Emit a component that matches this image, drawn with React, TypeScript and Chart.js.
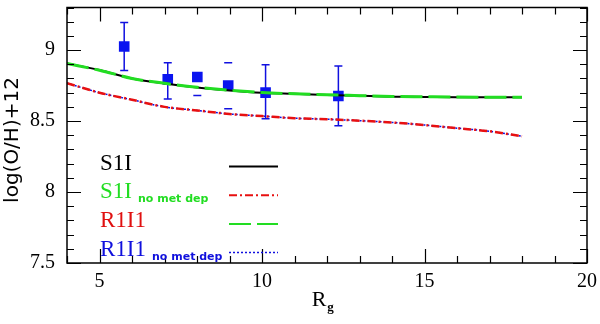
import React, { useEffect, useRef } from "react";
import { Chart, registerables } from "chart.js";

Chart.register(...registerables);

// Model gradients (galactocentric radius vs log(O/H)+12)
const modelR = [4, 5, 6, 7, 8, 9, 10, 11, 12, 13, 14, 15, 16, 17, 18];
const s1i = [8.905, 8.86, 8.80, 8.765, 8.737, 8.716, 8.70, 8.692, 8.684, 8.678, 8.672, 8.67, 8.668, 8.668, 8.668];
const r1i1 = [8.905, 8.858, 8.80, 8.766, 8.738, 8.717, 8.701, 8.692, 8.685, 8.679, 8.673, 8.671, 8.669, 8.668, 8.668];
const s1iNoMet = [8.767, 8.70, 8.65, 8.60, 8.575, 8.55, 8.535, 8.52, 8.513, 8.503, 8.49, 8.472, 8.45, 8.428, 8.393];
const r1i1NoMet = [8.767, 8.70, 8.65, 8.60, 8.575, 8.55, 8.535, 8.52, 8.513, 8.503, 8.49, 8.472, 8.45, 8.428, 8.393];

// Observations
const obsR = [5.76, 7.1, 8.01, 8.96, 10.11, 12.35];
const obsOH = [9.025, 8.795, 8.81, 8.75, 8.70, 8.677];
const obsErrLow = [8.857, 8.656, 8.68, 8.587, 8.517, 8.467];
const obsErrHigh = [9.194, 8.91, 8.83, 8.91, 8.896, 8.887];
const obsStem = [true, true, false, false, true, true];

// Axes
const xTicks = [5, 10, 15, 20];
const yTicks = [7.5, 8, 8.5, 9];
const xTitle = "R";
const xTitleSub = "g";
const yTitle = "log(O/H)+12";

// Legend
const legendLabels = ["S1I", "S1I", "R1I1", "R1I1"];
const legendSubs = ["", "no met dep", "", "no met dep"];
const legendTextColors = ["#000000", "#22dd22", "#e01010", "#1010dd"];
const legendDatasetIdx = [0, 1, 2, 3];

const BLACK = "#000000";
const RED = "#e81010";
const GREEN = "#22dd22";
const BLUE = "#1010e0";

const errorBarPlugin = {
  id: "errorBars",
  beforeDatasetsDraw(chart: any) {
    const { ctx, scales } = chart;
    const x = scales.x, y = scales.y;
    ctx.save();
    ctx.strokeStyle = BLUE;
    ctx.lineWidth = 1.5;
    for (let i = 0; i < obsR.length; i++) {
      const px = x.getPixelForValue(obsR[i]);
      const pl = y.getPixelForValue(obsErrLow[i]);
      const ph = y.getPixelForValue(obsErrHigh[i]);
      ctx.beginPath();
      if (obsStem[i]) {
        ctx.moveTo(px, pl);
        ctx.lineTo(px, ph);
      }
      ctx.moveTo(px - 4, pl);
      ctx.lineTo(px + 4, pl);
      ctx.moveTo(px - 4, ph);
      ctx.lineTo(px + 4, ph);
      ctx.stroke();
    }
    ctx.restore();
  },
};

const framePlugin = {
  id: "frameTicks",
  afterDraw(chart: any) {
    const { ctx, chartArea, scales } = chart;
    const { left, right, top, bottom } = chartArea;
    const x = scales.x, y = scales.y;
    ctx.save();
    ctx.strokeStyle = "#000";
    ctx.lineWidth = 1.5;
    ctx.strokeRect(left, top, right - left, bottom - top);
    ctx.lineWidth = 1.2;
    ctx.beginPath();
    for (let v = Math.ceil(x.min); v <= x.max; v++) {
      const px = Math.round(x.getPixelForValue(v)) + 0.5;
      const len = v % 5 === 0 ? 14 : 7;
      ctx.moveTo(px, bottom);
      ctx.lineTo(px, bottom - len);
      ctx.moveTo(px, top);
      ctx.lineTo(px, top + len);
    }
    for (let k = Math.ceil(y.min * 10 - 1e-6); k <= Math.floor(y.max * 10 + 1e-6); k++) {
      const py = Math.round(y.getPixelForValue(k / 10)) + 0.5;
      const len = k % 5 === 0 ? 14 : 7;
      ctx.moveTo(left, py);
      ctx.lineTo(left + len, py);
      ctx.moveTo(right, py);
      ctx.lineTo(right - len, py);
    }
    ctx.stroke();

    // axis titles
    ctx.fillStyle = "#000";
    ctx.font = '22px "Liberation Serif"';
    ctx.textBaseline = "alphabetic";
    ctx.textAlign = "left";
    const rw = ctx.measureText(xTitle).width;
    const cx = (left + right) / 2 - 8;
    ctx.fillText(xTitle, cx - rw / 2, 306);
    ctx.font = 'bold 13px "Liberation Serif"';
    ctx.fillText(xTitleSub, cx + rw / 2 + 1, 311);

    ctx.save();
    ctx.translate(13, 140);
    ctx.rotate(-Math.PI / 2);
    ctx.font = '20px "DejaVu Sans"';
    ctx.textAlign = "center";
    ctx.textBaseline = "middle";
    ctx.fillText(yTitle, 0, 0);
    ctx.restore();

    // legend
    const ds = chart.data.datasets;
    for (let i = 0; i < legendLabels.length; i++) {
      const base = top + 162 + i * 28.7;
      const tx = left + 33;
      ctx.fillStyle = legendTextColors[i];
      ctx.font = '23px "Liberation Serif"';
      ctx.textAlign = "left";
      ctx.textBaseline = "alphabetic";
      ctx.fillText(legendLabels[i], tx, base);
      if (legendSubs[i]) {
        const w = ctx.measureText(legendLabels[i]).width;
        ctx.font = 'bold 11px "DejaVu Sans"';
        ctx.fillText(legendSubs[i], tx + w + 6, base + 4);
      }
      const d = ds[legendDatasetIdx[i]];
      ctx.strokeStyle = d.borderColor;
      ctx.lineWidth = Math.min(d.borderWidth, 2);
      ctx.setLineDash(d.borderDash || []);
      ctx.beginPath();
      ctx.moveTo(left + 162, base - 3);
      ctx.lineTo(left + 211, base - 3);
      ctx.stroke();
      ctx.setLineDash([]);
    }
    ctx.restore();
  },
};

export default function App() {
  const ref = useRef<HTMLCanvasElement | null>(null);
  useEffect(() => {
    if (!ref.current) return;
    const line = (data: number[], color: string, width: number, dash: number[], order: number) => ({
      type: "line" as const,
      data: modelR.map((r, i) => ({ x: r, y: data[i] })),
      borderColor: color,
      backgroundColor: color,
      borderWidth: width,
      borderDash: dash,
      pointRadius: 0,
      fill: false,
      cubicInterpolationMode: "monotone" as const,
      order,
    });
    const chart = new Chart(ref.current, {
      type: "scatter",
      data: {
        datasets: [
          line(s1i, BLACK, 2, [], 4),
          line(s1iNoMet, RED, 2.5, [8, 3, 2, 3], 1),
          line(r1i1, GREEN, 3, [22, 6], 3),
          line(r1i1NoMet, BLUE, 1.5, [2, 2], 2),
          {
            type: "scatter" as const,
            data: obsR.map((r, i) => ({ x: r, y: obsOH[i] })),
            pointStyle: "rect",
            pointRadius: 7.5,
            backgroundColor: "#0a14f0",
            borderColor: "#0a14f0",
            borderWidth: 0,
            order: 10,
          } as any,
        ],
      },
      options: {
        animation: false,
        responsive: true,
        maintainAspectRatio: false,
        layout: { padding: { top: 3, right: 13, left: 0, bottom: 0 } },
        plugins: { legend: { display: false }, tooltip: { enabled: false } },
        scales: {
          x: {
            type: "linear",
            min: 4,
            max: 20,
            grid: { display: false, drawTicks: false },
            border: { display: false },
            afterBuildTicks: (s: any) => { s.ticks = xTicks.map((v) => ({ value: v })); },
            afterFit: (s: any) => { s.height = 61; s.paddingLeft = 0; s.paddingRight = 0; },
            ticks: {
              color: "#000",
              padding: 7,
              maxRotation: 0,
              font: { family: "Liberation Serif", size: 20 },
              callback: (v: any) => String(v),
            },
          },
          y: {
            type: "linear",
            min: 7.5,
            max: 9.3,
            grid: { display: false, drawTicks: false },
            border: { display: false },
            afterBuildTicks: (s: any) => { s.ticks = yTicks.map((v) => ({ value: v })); },
            afterFit: (s: any) => { s.width = 67; s.paddingTop = 0; s.paddingBottom = 0; },
            ticks: {
              color: "#000",
              padding: 12,
              font: { family: "Liberation Serif", size: 20 },
              callback: (v: any) => String(v),
            },
          },
        },
      },
      plugins: [errorBarPlugin, framePlugin],
    });
    return () => chart.destroy();
  }, []);
  return (
    <div style={{ position: "fixed", left: 0, top: 0, width: 600, height: 324, background: "#fff" }}>
      <canvas ref={ref} />
    </div>
  );
}
